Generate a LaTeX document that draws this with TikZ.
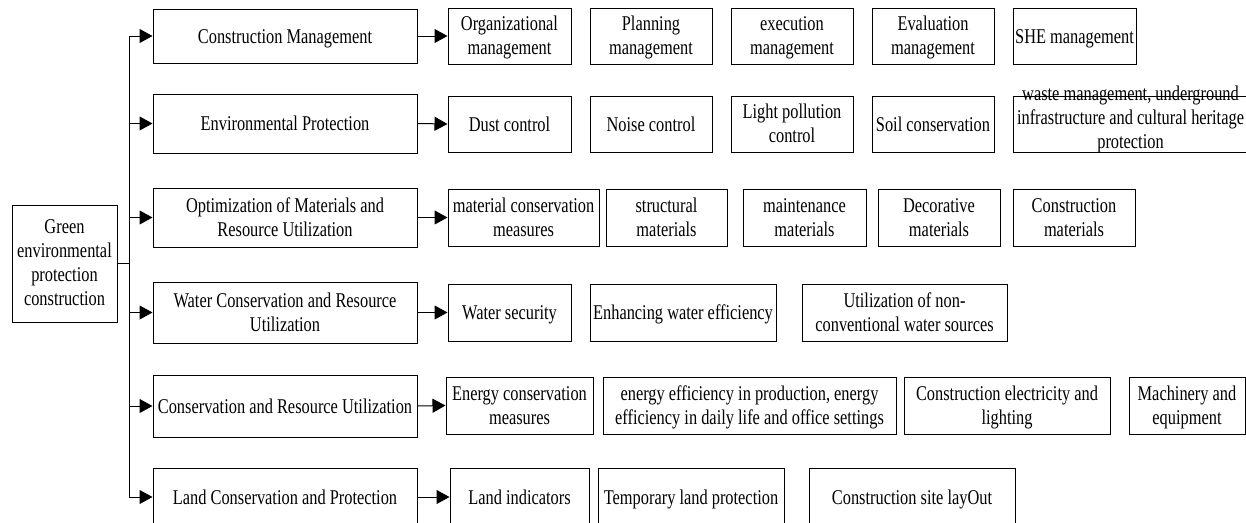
\documentclass[tikz,border=0pt]{standalone}
\usepackage{fontspec}
\setmainfont[FakeStretch=0.78]{Liberation Serif}
\usetikzlibrary{arrows.meta}
\newcommand{\bxt}[2]{\raisebox{0pt}[#1][0pt]{\begin{tabular}[b]{@{}c@{}}#2\end{tabular}}}
\begin{document}
\begin{tikzpicture}[x=1pt,y=-1pt,
  box/.style={draw=black, line width=1pt, inner sep=0pt,
    font=\fontsize{21}{24}\selectfont},
  arr/.style={draw=black, line width=1pt, -{Triangle[length=13pt,width=14pt]}},
  ln/.style={draw=black, line width=1pt}]
\path[use as bounding box, clip] (0,0) rectangle (1246,522);
\fill[white] (0,0) rectangle (1246,522);
% root
\node[box, minimum width=105pt, minimum height=117pt] (root) at (64.5,263.5) {\bxt{83pt}{Green\\environmental\\protection\\construction}};
% level 1
\node[box, minimum width=264pt, minimum height=54pt] (L1) at (285,36) {\bxt{14pt}{Construction Management}};
\node[box, minimum width=264pt, minimum height=59pt] (L2) at (285,123.5) {\bxt{14pt}{Environmental Protection}};
\node[box, minimum width=264pt, minimum height=59pt] (L3) at (285,217.5) {\bxt{37pt}{Optimization of Materials and\\Resource Utilization}};
\node[box, minimum width=264pt, minimum height=61pt] (L4) at (285,312.5) {\bxt{37pt}{Water Conservation and Resource\\Utilization}};
\node[box, minimum width=264pt, minimum height=62pt] (L5) at (285,406) {\bxt{14pt}{Conservation and Resource Utilization}};
\node[box, minimum width=264pt, minimum height=58pt] (L6) at (285,497) {\bxt{14pt}{Land Conservation and Protection}};
% row 1
\node[box, minimum width=123pt, minimum height=56pt] (a1) at (509.5,36) {\bxt{37pt}{Organizational\\management}};
\node[box, minimum width=122pt, minimum height=56pt] (a2) at (651,36) {\bxt{37pt}{Planning\\management}};
\node[box, minimum width=122pt, minimum height=56pt] (a3) at (792,36) {\bxt{37pt}{execution\\management}};
\node[box, minimum width=122pt, minimum height=56pt] (a4) at (933,36) {\bxt{37pt}{Evaluation\\management}};
\node[box, minimum width=123pt, minimum height=56pt] (a5) at (1074.5,36) {\bxt{14pt}{SHE management}};
% row 2
\node[box, minimum width=123pt, minimum height=56pt] (b1) at (509.5,124) {\bxt{14pt}{Dust control}};
\node[box, minimum width=122pt, minimum height=56pt] (b2) at (651,124) {\bxt{14pt}{Noise control}};
\node[box, minimum width=122pt, minimum height=56pt] (b3) at (792,124) {\bxt{37pt}{Light pollution\\control}};
\node[box, minimum width=122pt, minimum height=56pt] (b4) at (933,124) {\bxt{14pt}{Soil conservation}};
\node[box, minimum width=235pt, minimum height=56pt] (b5) at (1130.5,124) {\bxt{49pt}{waste management, underground\\infrastructure and cultural heritage\\protection}};
% row 3
\node[box, minimum width=151pt, minimum height=57pt] (c1) at (523.5,217.5) {\bxt{37pt}{material conservation\\measures}};
\node[box, minimum width=121pt, minimum height=57pt] (c2) at (666.5,217.5) {\bxt{37pt}{structural\\materials}};
\node[box, minimum width=123pt, minimum height=57pt] (c3) at (804.5,217.5) {\bxt{37pt}{maintenance\\materials}};
\node[box, minimum width=122pt, minimum height=57pt] (c4) at (939,217.5) {\bxt{37pt}{Decorative\\materials}};
\node[box, minimum width=122pt, minimum height=57pt] (c5) at (1074,217.5) {\bxt{37pt}{Construction\\materials}};
% row 4
\node[box, minimum width=123pt, minimum height=57pt] (d1) at (509.5,312.5) {\bxt{14pt}{Water security}};
\node[box, minimum width=186pt, minimum height=57pt] (d2) at (683,312.5) {\bxt{14pt}{Enhancing water efficiency}};
\node[box, minimum width=205pt, minimum height=57pt] (d3) at (904.5,312.5) {\bxt{37pt}{Utilization of non-\\conventional water sources}};
% row 5
\node[box, minimum width=147pt, minimum height=57pt] (e1) at (519.5,405.5) {\bxt{37pt}{Energy conservation\\measures}};
\node[box, minimum width=293pt, minimum height=57pt] (e2) at (749.5,405.5) {\bxt{37pt}{energy efficiency in production, energy\\efficiency in daily life and office settings}};
\node[box, minimum width=206pt, minimum height=57pt] (e3) at (1007,405.5) {\bxt{37pt}{Construction electricity and\\lighting}};
\node[box, minimum width=116pt, minimum height=57pt] (e4) at (1187,405.5) {\bxt{37pt}{Machinery and\\equipment}};
% row 6
\node[box, minimum width=139pt, minimum height=58pt] (f1) at (519.5,497) {\bxt{14pt}{Land indicators}};
\node[box, minimum width=186pt, minimum height=58pt] (f2) at (691,497) {\bxt{14pt}{Temporary land protection}};
\node[box, minimum width=206pt, minimum height=58pt] (f3) at (912,497) {\bxt{14pt}{Construction site layOut}};
% trunk
\coordinate (j0) at (129,263.5);
\coordinate (j1) at (129,36);
\coordinate (j2) at (129,123.5);
\coordinate (j3) at (129,217.5);
\coordinate (j4) at (129,312.5);
\coordinate (j5) at (129,406);
\coordinate (j6) at (129,497);
\draw[ln] (root.east) -- (j0);
\draw[ln] (j1) -- (j6);
\foreach \i in {1,...,6} {\draw[arr] (j\i) -- (L\i.west);}
\draw[arr] (L1.east) -- (a1.west);
\draw[arr] (L2.east) -- (b1.west);
\draw[arr] (L3.east) -- (c1.west);
\draw[arr] (L4.east) -- (d1.west);
\draw[arr] (L5.east) -- (e1.west);
\draw[arr] (L6.east) -- (f1.west);
\end{tikzpicture}
\end{document}
